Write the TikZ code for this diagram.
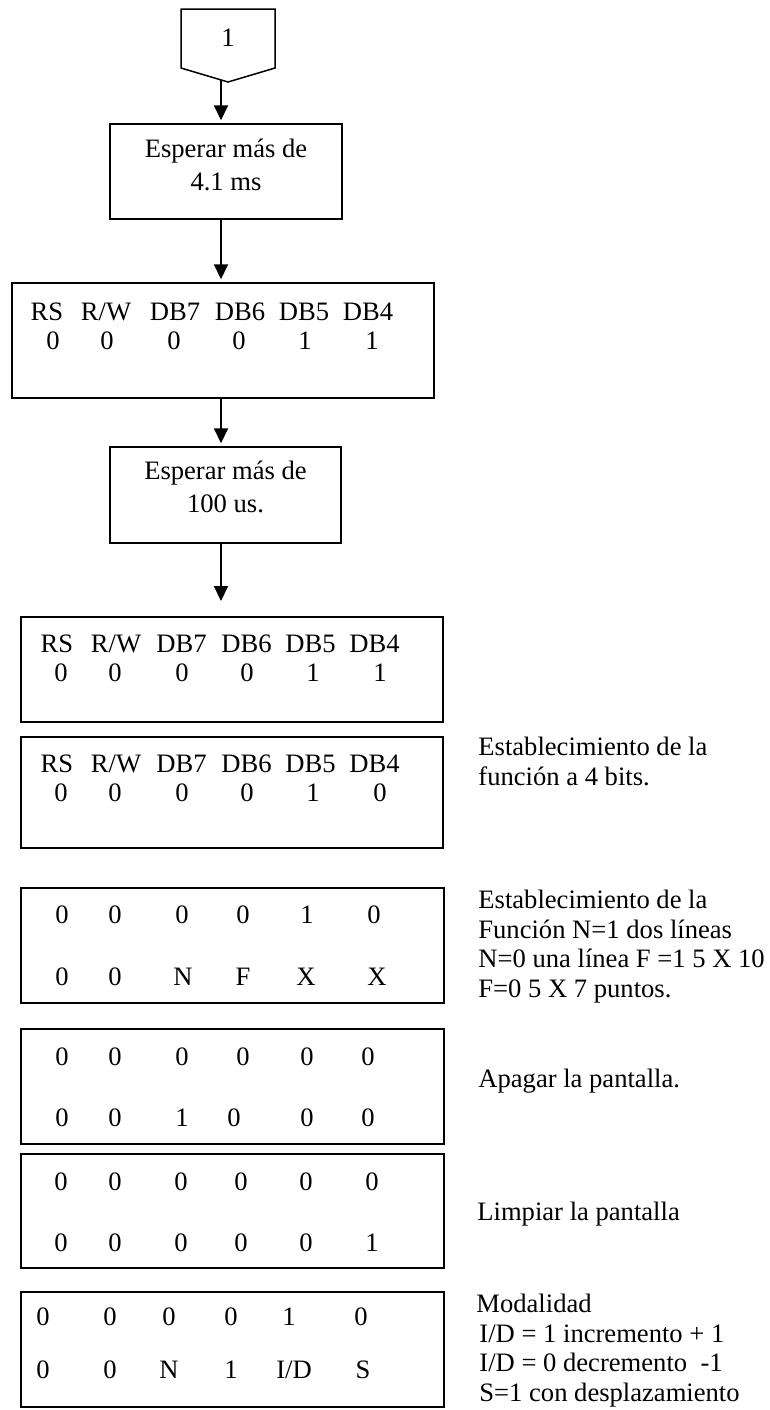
\documentclass[tikz,border=0pt]{standalone}
\usepackage{fontspec}
\setmainfont{Liberation Serif}
\usetikzlibrary{arrows.meta}
\begin{document}
\begin{tikzpicture}[x=0.5pt,y=-0.5pt,
  font=\fontsize{13.3pt}{14.75pt}\selectfont,
  box/.style={draw, line width=0.75pt, inner sep=0pt},
  cell/.style={inner sep=0pt, text height=8.8pt, text depth=0pt},
  boxtext/.style={inner sep=0pt, anchor=base, align=center},
  arr/.style={line width=1pt, -{Triangle[width=7pt,length=7.5pt]}, shorten >=1.5pt},
  note/.style={inner sep=0pt, anchor=base west, align=left}
]
\useasboundingbox (0,0) rectangle (770,1410);
\coordinate (ax) at (221,0);

% off-page connector
\draw[line width=0.75pt] (181,9) -- (275,9) -- (275,68) -- (228,82) -- (181,68) -- cycle;
\node[cell] (c1) at (228,38) {1};
\coordinate (cbot) at (221,80);

% flow boxes
\node[box, minimum width=116pt, minimum height=47.5pt] (b1) at (226,171.5) {};
\node[boxtext] (b1t) at (226,190) {Esperar más de\\[1.5pt]4.1 ms};
\node[box, minimum width=211pt, minimum height=57.5pt] (b2) at (223,340.5) {};
\node[box, minimum width=115.5pt, minimum height=48pt] (b3) at (225.5,495) {};
\node[boxtext] (b3t) at (225.5,512) {Esperar más de\\[1.5pt]100 us.};
\coordinate (aend) at (221,601);
\node[box, minimum width=211pt, minimum height=52.5pt] (b4) at (232,669.5) {};
\node[box, minimum width=211pt, minimum height=55.5pt] (b5) at (232,792.5) {};
\node[box, minimum width=211.5pt, minimum height=57.5pt] (b6) at (232.5,945.5) {};
\node[box, minimum width=211.5pt, minimum height=57.5pt] (b7) at (232.5,1086.5) {};
\node[box, minimum width=211.5pt, minimum height=57pt] (b8) at (232.5,1211) {};
\node[box, minimum width=211.5pt, minimum height=57.5pt] (b9) at (232.5,1349.5) {};

% arrows
\draw[arr] (cbot) -- (b1.north -| ax);
\draw[arr] (b1.south -| ax) -- (b2.north -| ax);
\draw[arr] (b2.south -| ax) -- (b3.north -| ax);
\draw[arr, shorten >=0pt] (b3.south -| ax) -- (aend);

% box 2
\foreach \x/\t [count=\i] in {47/RS,106/{R/W},175/DB7,240/DB6,304/DB5,368/DB4}
  \node[cell] (b2h\i) at (\x,312) {\t};
\foreach \x/\t [count=\i] in {53/0,107/0,174/0,239/0,305/1,372/1}
  \node[cell] (b2d\i) at (\x,341) {\t};

% box 4
\foreach \x/\t [count=\i] in {57/RS,116/{R/W},181.5/DB7,246.5/DB6,310.5/DB5,374.5/DB4}
  \node[cell] (b4h\i) at (\x,644) {\t};
\foreach \x/\t [count=\i] in {61/0,115/0,182/0,247/0,313/1,380/1}
  \node[cell] (b4d\i) at (\x,673) {\t};

% box 5
\foreach \x/\t [count=\i] in {57/RS,116/{R/W},181.5/DB7,246.5/DB6,310.5/DB5,374.5/DB4}
  \node[cell] (b5h\i) at (\x,764) {\t};
\foreach \x/\t [count=\i] in {61/0,115/0,182/0,247/0,313/1,380/0}
  \node[cell] (b5d\i) at (\x,793) {\t};

% box 6
\foreach \x/\t [count=\i] in {62/0,115/0,182/0,243/0,307/1,374/0}
  \node[cell] (b6a\i) at (\x,915) {\t};
\foreach \x/\t [count=\i] in {62/0,115/0,183/N,243/F,306/X,377/X}
  \node[cell] (b6b\i) at (\x,977) {\t};

% box 7
\foreach \x/\t [count=\i] in {62/0,115/0,182/0,243/0,307/0,368/0}
  \node[cell] (b7a\i) at (\x,1057) {\t};
\foreach \x/\t [count=\i] in {62/0,115/0,182/1,234/0,307/0,368/0}
  \node[cell] (b7b\i) at (\x,1118) {\t};

% box 8
\foreach \x/\t [count=\i] in {61/0,115/0,181/0,241/0,306/0,372/0}
  \node[cell] (b8a\i) at (\x,1182) {\t};
\foreach \x/\t [count=\i] in {61/0,115/0,181/0,241/0,306/0,372/1}
  \node[cell] (b8b\i) at (\x,1243) {\t};

% box 9
\foreach \x/\t [count=\i] in {43/0,110/0,169/0,231/0,289/1,361/0}
  \node[cell] (b9a\i) at (\x,1317) {\t};
\foreach \x/\t [count=\i] in {43/0,110/0,169/N,231/1,294/{I/D},363/S}
  \node[cell] (b9b\i) at (\x,1370) {\t};

% side notes (base anchor = baseline of the last line)
\node[note] (n5) at (478,785) {Establecimiento de la\\función a 4 bits.};
\node[note] (n6) at (478,997) {Establecimiento de la\\Función N=1 dos líneas\\N=0 una línea F =1 5 X 10\\F=0 5 X 7 puntos.};
\node[note] (n7) at (478,1087) {Apagar la pantalla.};
\node[note] (n8) at (477,1220) {Limpiar la pantalla};
\node[note] (n9) at (476,1401) {Modalidad\\\hspace*{1.5pt}I/D = 1 incremento + 1\\\hspace*{1.5pt}I/D = 0 decremento~ -1\\\hspace*{1.5pt}S=1 con desplazamiento};
\end{tikzpicture}
\end{document}
